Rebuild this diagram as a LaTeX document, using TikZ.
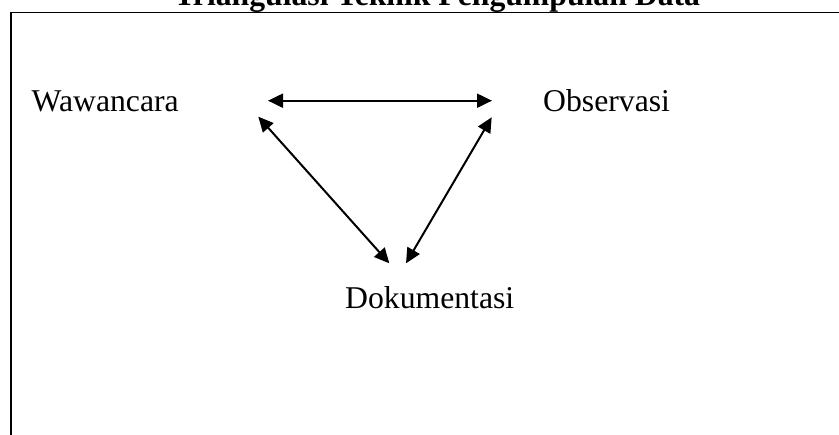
\documentclass[tikz,border=0pt]{standalone}
\usepackage{fontspec}
\setmainfont{Liberation Serif}
\usetikzlibrary{arrows.meta}
\begin{document}
\begin{tikzpicture}[x=1pt,y=-1pt,
  lbl/.style={inner sep=0pt,font=\fontsize{31.7}{36}\selectfont},
  ttl/.style={inner sep=0pt,font=\fontsize{31.7}{36}\selectfont\bfseries},
  conn/.style={line width=2pt,{Triangle[length=15pt,width=14pt]}-{Triangle[length=15pt,width=14pt]}}]
\useasboundingbox (0,0) rectangle (839,435);
\clip (0,0) rectangle (839,435);
\draw[line width=1.4pt] (11,12.7) rectangle (900,500);
\node[ttl,anchor=base west] (title) at (174,6) {Triangulasi Teknik Pengumpulan Data};
\node[lbl,anchor=base west] (waw) at (31.5,112) {Wawancara};
\node[lbl,anchor=base west] (obs) at (543,112) {Observasi};
\node[lbl,anchor=base west] (dok) at (345,309) {Dokumentasi};
\coordinate (wr) at (268,100.7);
\coordinate (ol) at (492,100.7);
\coordinate (wd) at (258.3,116.7);
\coordinate (od) at (491.7,117.3);
\coordinate (dl) at (389.3,263.3);
\coordinate (dr) at (406,263.3);
\draw[conn] (wr) -- (ol);
\draw[conn] (wd) -- (dl);
\draw[conn] (od) -- (dr);
\end{tikzpicture}
\end{document}
